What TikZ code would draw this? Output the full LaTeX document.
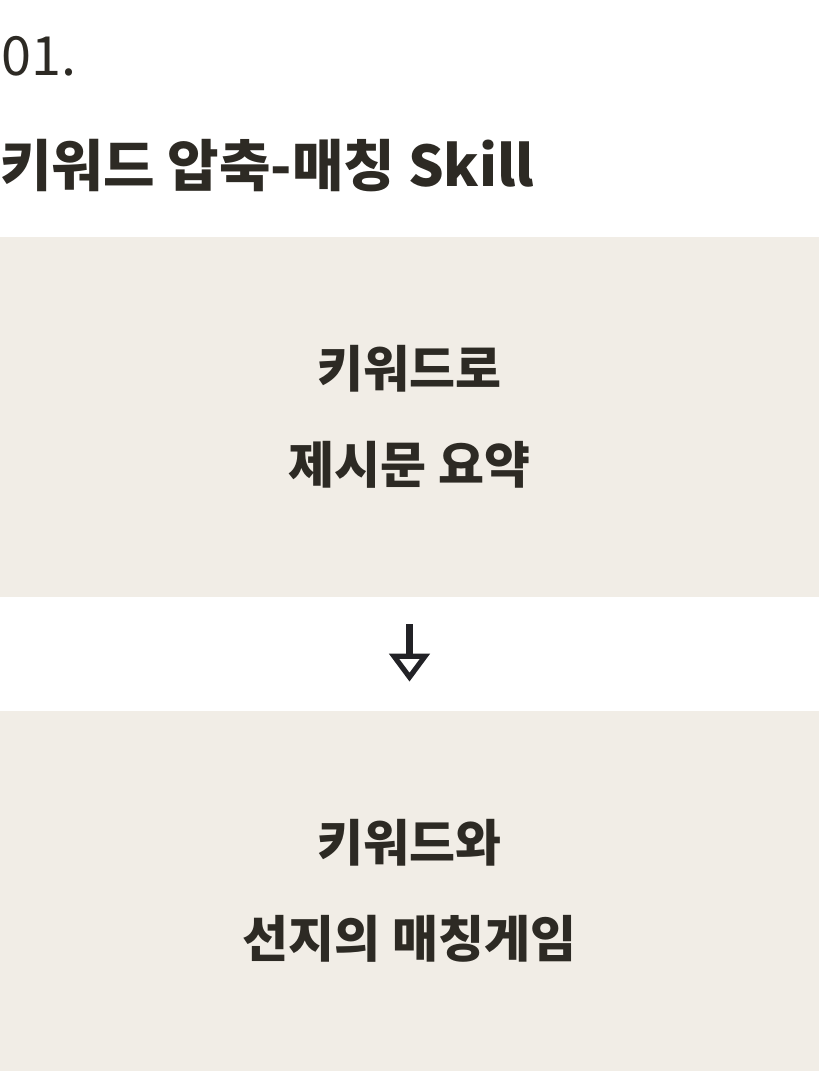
\documentclass[tikz,border=0pt]{standalone}
\usepackage{fontspec}
\setmainfont{Noto Sans CJK KR}
\usetikzlibrary{arrows.meta}
\definecolor{ink}{HTML}{2D2A24}
\definecolor{paper}{HTML}{F1EDE6}
\definecolor{arrowc}{HTML}{222226}
\begin{document}
\begin{tikzpicture}[x=0.5pt, y=-0.5pt,
    card/.style={fill=paper, draw=none, inner sep=0pt, minimum width=409.5pt, minimum height=180pt,
        align=center, text=ink, font=\fontsize{25}{48}\selectfont\bfseries},
    flow/.style={draw=arrowc, line width=3.3pt, shorten <=13.5pt, shorten >=14.5pt,
        -{Triangle[open, length=14pt, width=20pt, line width=2.6pt]}}]
    \useasboundingbox (0,0) rectangle (819,1071);
    % header
    \node[anchor=base west, inner sep=0pt, text=ink, font=\fontsize{27}{27}\selectfont] (num) at (1,75) {01.};
    \node[anchor=base west, inner sep=0pt, text=ink, font=\fontsize{28}{28}\selectfont\bfseries] (title) at (0,186) {키워드 압축-매칭 Skill};

    % the two steps
    \node[card] (summ) at (409.5,417) {키워드로\\제시문 요약};
    \node[card] (match) at (409.5,891) {키워드와\\선지의 매칭게임};

    \draw[flow] (summ.south) -- (match.north);
\end{tikzpicture}
\end{document}
